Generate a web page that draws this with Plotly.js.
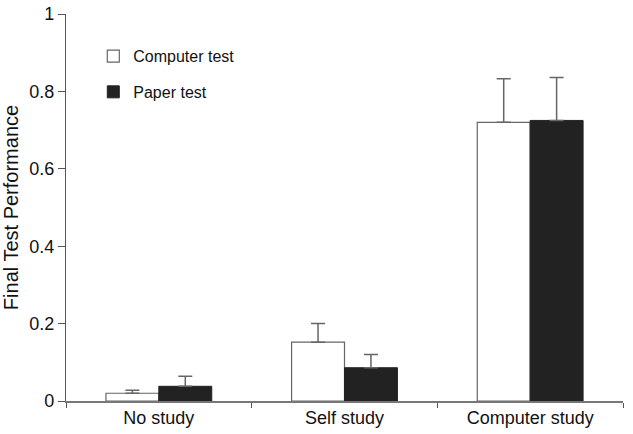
<!DOCTYPE html>
<html>
<head>
<meta charset="utf-8">
<script src="https://cdn.plot.ly/plotly-3.0.1.min.js"></script>
<style>body{margin:0;background:#fff}</style>
</head>
<body>
<div id="myDiv" style="width:633px;height:434px"></div>
<script>
var conditions = ['No study', 'Self study', 'Computer study'];
var computerTest = [0.020, 0.152, 0.720];
var computerErr = [0.008, 0.048, 0.113];
var paperTest = [0.038, 0.086, 0.725];
var paperErr = [0.026, 0.034, 0.111];

var trace1 = {
  x: conditions,
  y: computerTest,
  type: 'bar',
  name: 'Computer test',
  legendgroup: 'a',
  marker: { color: '#ffffff', line: { color: '#666666', width: 1.2 } },
  error_y: { type: 'data', symmetric: false, array: computerErr, arrayminus: [0, 0, 0],
    color: '#666666', thickness: 1.5, width: 7 }
};

var trace2 = {
  x: conditions,
  y: paperTest,
  type: 'bar',
  name: 'Paper test',
  legendgroup: 'b',
  marker: { color: '#222222', line: { color: '#222222', width: 1 } },
  error_y: { type: 'data', symmetric: false, array: paperErr, arrayminus: [0, 0, 0],
    color: '#666666', thickness: 1.5, width: 7 }
};

var data = [trace1, trace2];

var layout = {
  width: 633,
  height: 434,
  margin: { l: 66, r: 10, t: 14, b: 33 },
  paper_bgcolor: '#ffffff',
  plot_bgcolor: '#ffffff',
  font: { family: 'Liberation Sans, Arial, sans-serif', size: 18, color: '#111111' },
  barmode: 'group',
  bargap: 0.43,
  bargroupgap: 0,
  showlegend: true,
  legend: {
    x: 0.049, y: 0.935, xanchor: 'left', yanchor: 'top',
    font: { size: 16, color: '#111111' },
    traceorder: 'grouped', tracegroupgap: 12,
    bgcolor: 'rgba(0,0,0,0)'
  },
  xaxis: {
    range: [-0.5, 2.5],
    showgrid: false,
    zeroline: false,
    showline: true,
    linecolor: '#777777',
    linewidth: 1.5,
    ticks: 'outside',
    tickson: 'boundaries',
    ticklen: 5,
    tickcolor: '#555555',
    tickfont: { size: 18 }
  },
  yaxis: {
    range: [0, 1],
    dtick: 0.2,
    showgrid: false,
    zeroline: false,
    showline: true,
    linecolor: '#555555',
    linewidth: 1.2,
    ticks: 'outside',
    ticklen: 7,
    tickcolor: '#555555',
    tickfont: { size: 18 },
    title: { text: 'Final Test Performance', font: { size: 20 }, standoff: 10 }
  }
};

Plotly.newPlot('myDiv', data, layout, { displayModeBar: false });
</script>
</body>
</html>
